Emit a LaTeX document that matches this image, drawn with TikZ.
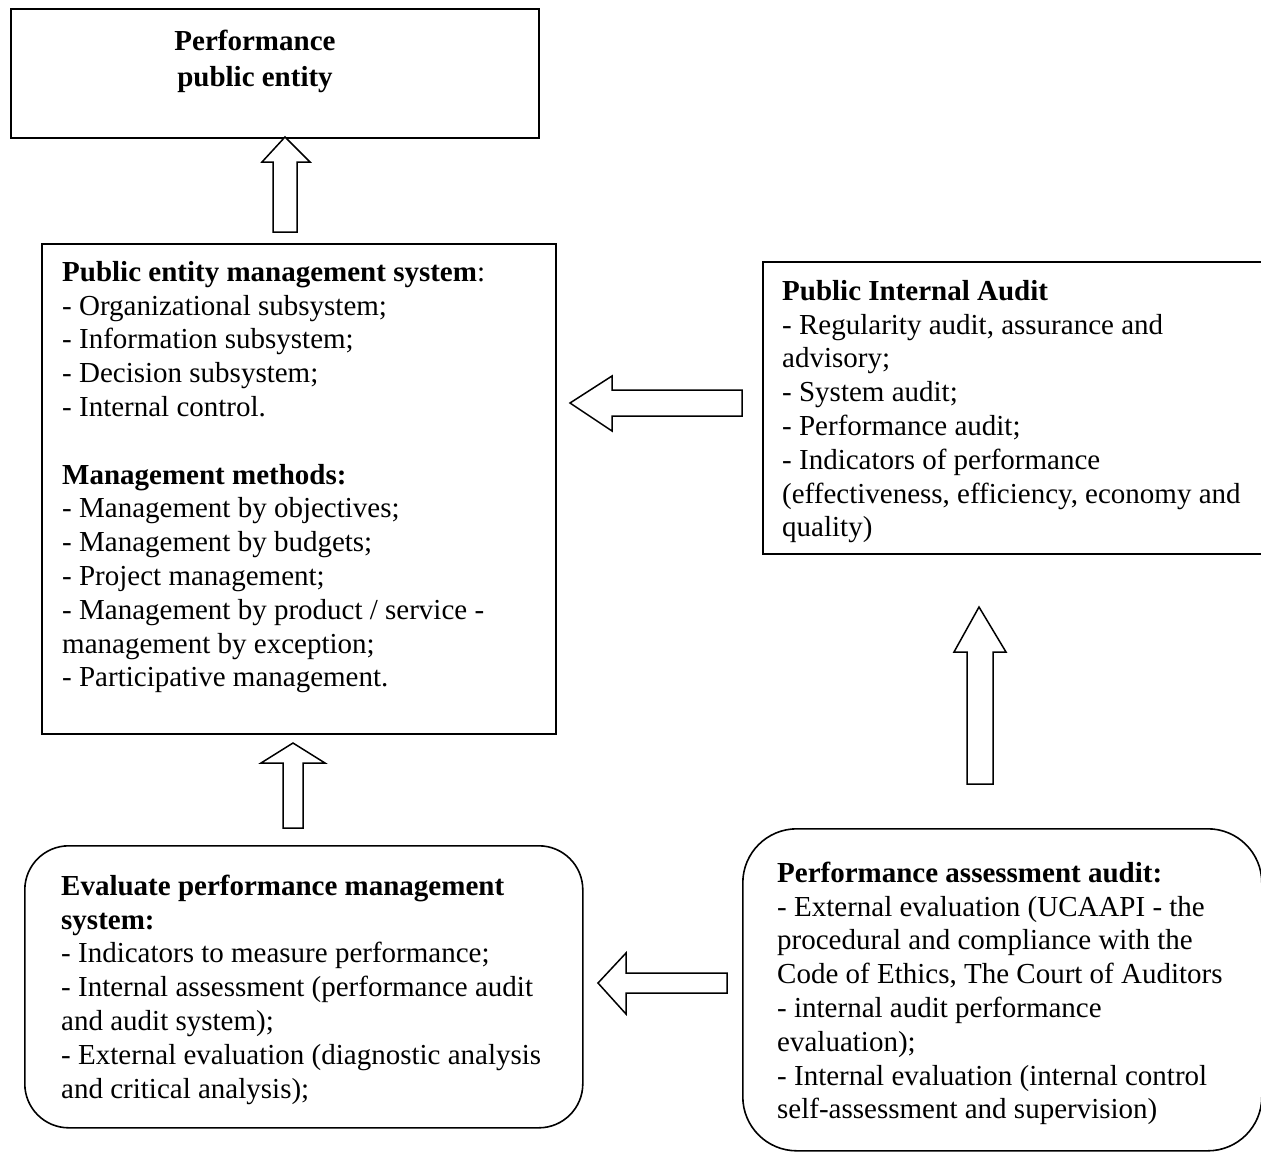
\documentclass[tikz,border=0pt]{standalone}
\usepackage{fontspec}
\setmainfont{Liberation Serif}
\begin{document}
\begin{tikzpicture}[x=1pt,y=-1pt,
  box/.style={draw, line width=1.6pt, inner sep=0pt, anchor=north west},
  rbox/.style={box, rounded corners=#1},
  txt/.style={anchor=north west, inner sep=0pt, align=left, font=\fontsize{29}{33.8}\selectfont},
  barrow/.style={draw, line width=1.5pt, fill=white, line join=miter}]
\path[use as bounding box] (0,0) rectangle (1261,1152);
\clip (0,0) rectangle (1261,1152);
\fill[white] (0,0) rectangle (1261,1152);

% boxes
\node[box, minimum width=528pt, minimum height=129pt] (perf) at (10,8) {};
\node[box, minimum width=514pt, minimum height=490pt] (mgmt) at (41,243) {};
\node[box, minimum width=512pt, minimum height=292pt] (audit) at (762,261) {};
\node[rbox=44pt, minimum width=558pt, minimum height=282pt] (eval) at (24,845) {};
\node[rbox=54pt, minimum width=519pt, minimum height=322pt] (assess) at (742,828) {};

% texts
\node[txt, anchor=north, align=center] (perfT) at (255,28)
  {\rule{0pt}{22pt}\textbf{Performance}\\[2pt]\textbf{public entity}};
\node[txt] (mgmtT) at (62,259)
  {\rule{0pt}{22pt}\textbf{Public entity management system}:\\
   - Organizational subsystem;\\
   - Information subsystem;\\
   - Decision subsystem;\\
   - Internal control.\\[33.8pt]
   \textbf{Management methods:}\\
   - Management by objectives;\\
   - Management by budgets;\\
   - Project management;\\
   - Management by product / service -\\
   management by exception;\\
   - Participative management.};
\node[txt] (auditT) at (782,278)
  {\rule{0pt}{22pt}\textbf{Public Internal Audit}\\
   - Regularity audit, assurance and\\
   advisory;\\
   - System audit;\\
   - Performance audit;\\
   - Indicators of performance\\
   (effectiveness, efficiency, economy and\\
   quality)};
\node[txt] (evalT) at (61,873)
  {\rule{0pt}{22pt}\textbf{Evaluate performance management}\\
   \textbf{system:}\\
   - Indicators to measure performance;\\
   - Internal assessment (performance audit\\
   and audit system);\\
   - External evaluation (diagnostic analysis\\
   and critical analysis);};
\node[txt] (assessT) at (777,860)
  {\rule{0pt}{22pt}\textbf{Performance assessment audit:}\\
   - External evaluation (UCAAPI - the\\
   procedural and compliance with the\\
   Code of Ethics, The Court of Auditors\\
   - internal audit performance\\
   evaluation);\\
   - Internal evaluation (internal control\\
   self-assessment and supervision)};

% block arrows
\draw[barrow] (285,137) -- (310,162) -- (297,162) -- (297,232) -- (273,232) -- (273,162) -- (262,162) -- cycle;
\draw[barrow] (570,403) -- (612,376) -- (612,390) -- (742,390) -- (742,416) -- (612,416) -- (612,431) -- cycle;
\draw[barrow] (979,607) -- (1006,652) -- (993,652) -- (993,784) -- (967,784) -- (967,652) -- (954,652) -- cycle;
\draw[barrow] (293,743) -- (325,763) -- (303,763) -- (303,828) -- (283,828) -- (283,763) -- (261,763) -- cycle;
\draw[barrow] (598,983) -- (626,953) -- (626,973) -- (727,973) -- (727,993) -- (626,993) -- (626,1014) -- cycle;
\end{tikzpicture}
\end{document}
